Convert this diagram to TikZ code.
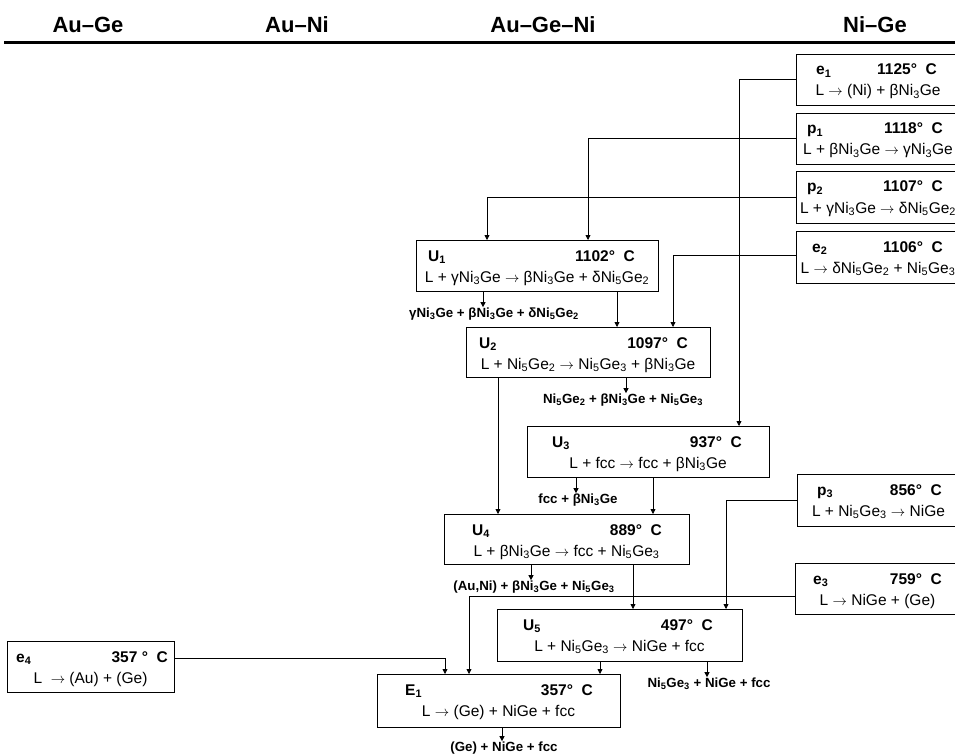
\documentclass[tikz,border=0pt]{standalone}
\usepackage{fontspec}
\setmainfont{Liberation Sans}
\usetikzlibrary{arrows.meta,calc}
\newcommand\phb[9]{%
 \node[box, minimum width=#4, minimum height=#5, anchor=north west] (#1) at (#2,#3) {};
 \node[bt, anchor=base west] (#1l) at ($(#1.north west)+(#6,21)$) {#7};
 \node[bt, anchor=base east] (#1t) at ($(#1.north east)+(-#8,21)$) {#9};
}
\newcommand\phc[2]{\node[rt, anchor=base] (#1r) at ($(#1.north)+(0,42)$) {#2};}
\newcommand\sub[1]{\textsubscript{#1}}
\newcommand\ra{\ensuremath{\rightarrow}}
\begin{document}
\begin{tikzpicture}[x=1pt,y=-1pt,
 box/.style={draw, line width=0.9pt, inner sep=0pt, outer sep=0pt},
 bt/.style={font=\fontsize{15.5}{18}\selectfont\bfseries, inner sep=0pt},
 rt/.style={font=\fontsize{15.5}{18}\selectfont, inner sep=0pt},
 lb/.style={font=\fontsize{13.3}{15}\selectfont\bfseries, inner sep=0pt},
 hd/.style={font=\fontsize{22}{26}\selectfont\bfseries, inner sep=0pt},
 con/.style={line width=0.8pt, -{Triangle[length=5pt,width=5pt]}},
]
\useasboundingbox (0,0) rectangle (955,754);
\fill[white] (0,0) rectangle (955,754);
% header
\node[hd, anchor=base] (h1) at (88,33) {Au–Ge};
\node[hd, anchor=base] (h2) at (297,33) {Au–Ni};
\node[hd, anchor=base] (h3) at (543,33) {Au–Ge–Ni};
\node[hd, anchor=base] (h4) at (875,33) {Ni–Ge};
\draw[line width=3pt] (4,43) -- (955,43);
% right column
\phb{e1}{796}{54}{164}{51}{20}{e\sub{1}}{23}{1125°~~C}
\phc{e1}{L \ra{} (Ni) + βNi\sub{3}Ge}
\phb{p1}{796}{113}{164}{51}{11}{p\sub{1}}{17}{1118°~~C}
\phc{p1}{L + βNi\sub{3}Ge \ra{} γNi\sub{3}Ge}
\phb{p2}{796}{171}{164}{52}{11}{p\sub{2}}{17}{1107°~~C}
\phc{p2}{L + γNi\sub{3}Ge \ra{} δNi\sub{5}Ge\sub{2}}
\phb{e2}{796}{231}{164}{52}{16}{e\sub{2}}{17}{1106°~~C}
\phc{e2}{L \ra{} δNi\sub{5}Ge\sub{2} + Ni\sub{5}Ge\sub{3}}
\phb{p3}{797}{474}{163}{52}{20}{p\sub{3}}{18}{856°~~C}
\phc{p3}{L + Ni\sub{5}Ge\sub{3} \ra{} NiGe}
\phb{e3}{795}{563}{165}{51}{18}{e\sub{3}}{18}{759°~~C}
\phc{e3}{L \ra{} NiGe + (Ge)}
% U boxes
\phb{U1}{416}{240}{242}{51}{12}{U\sub{1}}{23}{1102°~~C}
\phc{U1}{L + γNi\sub{3}Ge \ra{} βNi\sub{3}Ge + δNi\sub{5}Ge\sub{2}}
\phb{U2}{466}{327}{244}{50}{13}{U\sub{2}}{22}{1097°~~C}
\phc{U2}{L + Ni\sub{5}Ge\sub{2} \ra{} Ni\sub{5}Ge\sub{3} + βNi\sub{3}Ge}
\phb{U3}{527}{426}{242}{51}{25}{U\sub{3}}{27}{937°~~C}
\phc{U3}{L + fcc \ra{} fcc + βNi\sub{3}Ge}
\phb{U4}{444}{514}{245}{50}{28}{U\sub{4}}{27}{889°~~C}
\phc{U4}{L + βNi\sub{3}Ge \ra{} fcc + Ni\sub{5}Ge\sub{3}}
\phb{U5}{497}{609}{245}{52}{26}{U\sub{5}}{29}{497°~~C}
\phc{U5}{L + Ni\sub{5}Ge\sub{3} \ra{} NiGe + fcc}
\phb{E1}{377}{674}{243}{53}{28}{E\sub{1}}{27}{357°~~C}
\phc{E1}{L \ra{} (Ge) + NiGe + fcc}
\phb{e4}{7}{641}{167}{51}{9}{e\sub{4}}{6}{357 °~~C}
\phc{e4}{L~~\ra{} (Au) + (Ge)}
% phase labels
\node[lb, anchor=base] (L1) at (494,317) {γNi\sub{3}Ge + βNi\sub{3}Ge + δNi\sub{5}Ge\sub{2}};
\node[lb, anchor=base] (L2) at (623,403) {Ni\sub{5}Ge\sub{2} + βNi\sub{3}Ge + Ni\sub{5}Ge\sub{3}};
\node[lb, anchor=base] (L3) at (578,503) {fcc + βNi\sub{3}Ge};
\node[lb, anchor=base] (L4) at (534,590) {(Au,Ni) + βNi\sub{3}Ge + Ni\sub{5}Ge\sub{3}};
\node[lb, anchor=base] (L5) at (709,687) {Ni\sub{5}Ge\sub{3} + NiGe + fcc};
\node[lb, anchor=base] (L6) at (504,751) {(Ge) + NiGe + fcc};
% connectors
\draw[con] (e1.west) -| ($(U3.north west)+(212,0)$);
\draw[con] (p1.west) -| ($(U1.north west)+(172,0)$);
\draw[con] (p2.west) -| ($(U1.north west)+(71,0)$);
\draw[con] ($(e2.west)+(0,-2)$) -| ($(U2.north west)+(207,0)$);
\draw[con] ($(U1.south west)+(201,0)$) coordinate (c1) -- (c1 |- U2.north);
\draw[con] ($(U1.south west)+(67,0)$) coordinate (c2) -- (c2 |- L1.north);
\draw[con] ($(U2.south west)+(32,0)$) coordinate (c3) -- (c3 |- U4.north);
\draw[con] ($(U2.south west)+(160,0)$) coordinate (c4) -- (c4 |- L2.north);
\draw[con] ($(U3.south west)+(49,0)$) coordinate (c5) -- (c5 |- L3.north);
\draw[con] ($(U3.south west)+(126,0)$) coordinate (c6) -- (c6 |- U4.north);
\draw[con] (p3.west) -| ($(U5.north west)+(229,0)$);
\draw[con] ($(U4.south west)+(87,0)$) coordinate (c7) -- (c7 |- L4.north);
\draw[con] ($(U4.south west)+(189,0)$) coordinate (c8) -- (c8 |- U5.north);
\draw[con] ($(e3.west)+(0,8)$) -| ($(E1.north west)+(92,0)$);
\draw[con] ($(e4.east)+(0,-8)$) -| ($(E1.north west)+(68,0)$);
\draw[con] ($(U5.south west)+(103,0)$) coordinate (c9) -- (c9 |- E1.north);
\draw[con] ($(U5.south west)+(210,0)$) coordinate (c10) -- (c10 |- L5.north);
\draw[con] ($(E1.south west)+(125,0)$) coordinate (c11) -- (c11 |- L6.north);
\end{tikzpicture}
\end{document}
